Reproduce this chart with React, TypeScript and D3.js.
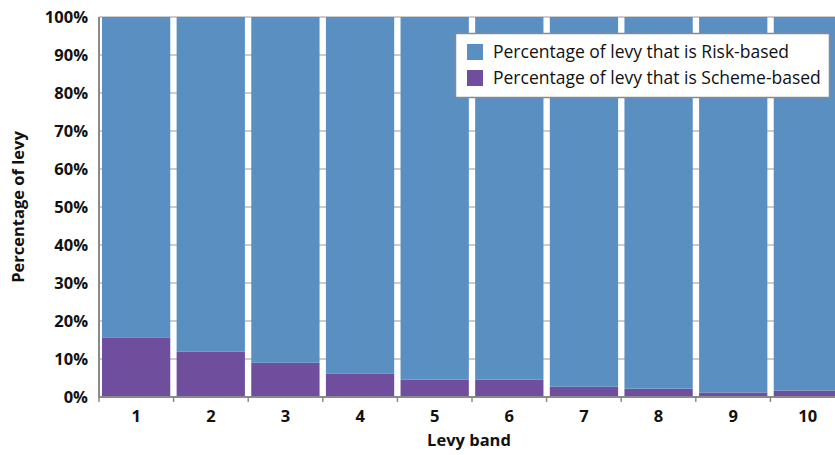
import React from "react";
import * as d3 from "d3";

const bands = ["1", "2", "3", "4", "5", "6", "7", "8", "9", "10"];
const schemePct = [15.7, 11.9, 9.0, 6.1, 4.6, 4.6, 2.7, 2.2, 1.2, 1.7];
const riskPct = schemePct.map((v) => 100 - v);
const yTicks = [0, 10, 20, 30, 40, 50, 60, 70, 80, 90, 100];
const seriesNames = ["Percentage of levy that is Risk-based", "Percentage of levy that is Scheme-based"];
const colors = ["#5A8FC2", "#6F4F9D"];

export default function App() {
  const W = 835, H = 455;
  const left = 99, top = 17, bottom = 397, plotW = 746;
  const x = d3.scaleBand<string>().domain(bands).range([left, left + plotW]).paddingInner(0.085).paddingOuter(0.04);
  const xEdge = d3.scaleBand<string>().domain(bands).range([left, left + plotW]).padding(0);
  const y = d3.scaleLinear().domain([0, 100]).range([bottom, top]);
  const font = "'Open Sans', 'Noto Sans', sans-serif";
  const data = bands.map((b, i) => ({ band: b, scheme: schemePct[i], risk: riskPct[i] }));
  const stack = d3.stack<any>().keys(["scheme", "risk"])(data);
  const stackColors = [colors[1], colors[0]];
  return (
    <svg width={W} height={H} style={{ position: "fixed", left: 0, top: 0, background: "#fff" }} fontFamily={font}>
      {yTicks.map((t) => (
        <line key={"g" + t} x1={left} x2={left + plotW} y1={y(t)} y2={y(t)} stroke="#9a9a9a" strokeWidth={1} />
      ))}
      {stack.map((s, si) =>
        s.map((d, i) => (
          <rect key={si + "-" + i} x={x(bands[i])} width={x.bandwidth()} y={y(d[1])} height={y(d[0]) - y(d[1])} fill={stackColors[si]} />
        ))
      )}
      <line x1={left} x2={left} y1={top} y2={bottom} stroke="#8a8a8a" strokeWidth={2} />
      <line x1={left - 1} x2={left + plotW} y1={bottom} y2={bottom} stroke="#8a8a8a" strokeWidth={2} />
      {bands.map((b) => (
        <line key={"t" + b} x1={xEdge(b)} x2={xEdge(b)} y1={bottom} y2={bottom + 5} stroke="#8a8a8a" strokeWidth={1.5} />
      ))}
      {yTicks.map((t) => (
        <text key={"yl" + t} x={88} y={y(t)} dy="0.36em" textAnchor="end" fontSize={16.5} fontWeight="bold" fill="#111">
          {t + "%"}
        </text>
      ))}
      {bands.map((b) => (
        <text key={"xl" + b} x={xEdge(b)! + xEdge.bandwidth() / 2} y={422} textAnchor="middle" fontSize={16.5} fontWeight="bold" fill="#111">
          {b}
        </text>
      ))}
      <text x={469} y={446} textAnchor="middle" fontSize={16.5} fontWeight="bold" fill="#111">Levy band</text>
      <text transform={`translate(24,${(top + bottom) / 2}) rotate(-90)`} textAnchor="middle" fontSize={16.5} fontWeight="bold" fill="#111">
        Percentage of levy
      </text>
      <rect x={455.5} y={33.5} width={374} height={64} fill="#fff" stroke="#8a8a8a" strokeWidth={1.5} />
      {seriesNames.map((n, i) => (
        <g key={n}>
          <rect x={467} y={44 + i * 26} width={16} height={16} fill={colors[i]} />
          <text x={493} y={52 + i * 26} dy="0.36em" fontSize={17.5} fill="#111">{n}</text>
        </g>
      ))}
    </svg>
  );
}
